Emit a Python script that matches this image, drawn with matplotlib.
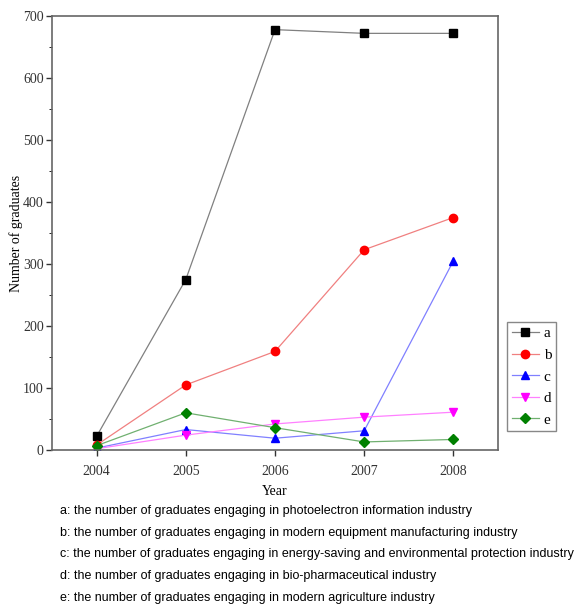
import matplotlib
matplotlib.use("Agg")
import matplotlib.pyplot as plt
from matplotlib.ticker import MultipleLocator

plt.rcParams['font.family'] = ['Liberation Serif', 'DejaVu Serif']

years = [2004, 2005, 2006, 2007, 2008]
a = [22, 275, 678, 672, 672]
b = [8, 105, 159, 323, 375]
c = [3, 33, 19, 31, 305]
d = [2, 24, 42, 53, 61]
e = [7, 60, 36, 13, 17]

series_names = ['a', 'b', 'c', 'd', 'e']
captions = [
    "a: the number of graduates engaging in photoelectron information industry",
    "b: the number of graduates engaging in modern equipment manufacturing industry",
    "c: the number of graduates engaging in energy-saving and environmental protection industry",
    "d: the number of graduates engaging in bio-pharmaceutical industry",
    "e: the number of graduates engaging in modern agriculture industry",
]

fig = plt.figure(figsize=(5.78, 6.07), dpi=100)
ax = fig.add_axes([52 / 578, 1 - 450 / 607, 446 / 578, 434 / 607])

styles = [
    (a, 's', '#000000', '#808080'),
    (b, 'o', '#ff0000', '#f08080'),
    (c, '^', '#0000ff', '#8080ff'),
    (d, 'v', '#ff00ff', '#ff80ff'),
    (e, 'D', '#008000', '#70b070'),
]
for name, (vals, mk, mc, lc) in zip(series_names, styles):
    ms = 5 if mk == 'D' else 6
    ax.plot(years, vals, color=lc, lw=0.9, marker=mk, ms=ms,
            markerfacecolor=mc, markeredgecolor=mc, label=name)

ax.set_xlim(2003.5, 2008.5)
ax.set_ylim(0, 700)
ax.set_xticks(years)
ax.yaxis.set_major_locator(MultipleLocator(100))
ax.yaxis.set_minor_locator(MultipleLocator(50))
ax.tick_params(axis='both', labelsize=10, colors='#333333', direction='out',
               top=False, right=False, length=4, width=1)
ax.tick_params(axis='x', pad=7)
ax.tick_params(axis='y', pad=2)
ax.tick_params(axis='y', which='minor', length=2.5, right=False)
for sp in ax.spines.values():
    sp.set_color('#666666')
    sp.set_linewidth(1.2)

ax.set_xlabel('Year', fontsize=10, labelpad=5)
ax.set_ylabel('Number of graduates', fontsize=10, labelpad=0)

leg = ax.legend(loc='upper left', bbox_to_anchor=(1.02, 0.295), fontsize=11,
                handlelength=1.8, handletextpad=0.3, borderpad=0.3,
                labelspacing=0.52, fancybox=False, framealpha=1,
                edgecolor='#888888', borderaxespad=0)
leg.get_frame().set_linewidth(1.0)

for i, txt in enumerate(captions):
    fig.text(60 / 578, 1 - (511 + i * 21.7) / 607, txt, fontsize=9,
             family=['Liberation Sans', 'DejaVu Sans'], va='center', ha='left')

fig.savefig('out.png', dpi=100)
